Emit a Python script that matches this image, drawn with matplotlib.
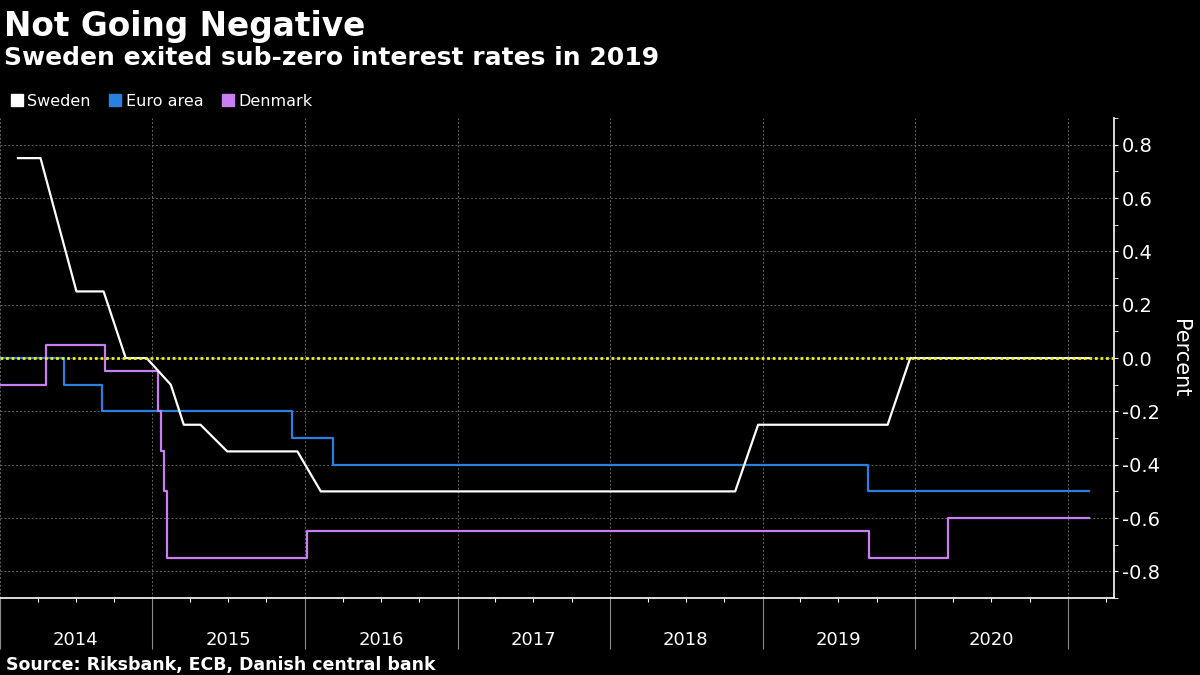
import pandas as pd
import matplotlib.pyplot as plt
import matplotlib.dates as mdates
from matplotlib.lines import Line2D
from matplotlib.ticker import MultipleLocator, FuncFormatter

# Policy rates (percent)
sweden_dates = ['2014-02-13', '2014-04-08', '2014-07-03', '2014-09-06', '2014-10-29',
                '2014-12-18', '2015-02-14', '2015-03-17', '2015-04-26', '2015-06-29',
                '2015-12-14', '2016-02-08', '2018-10-27', '2018-12-21', '2019-10-27',
                '2019-12-20', '2021-02-20']
sweden_rates = [0.75, 0.75, 0.25, 0.25, 0.0, 0.0, -0.1, -0.25, -0.25, -0.35,
                -0.35, -0.5, -0.5, -0.25, -0.25, 0.0, 0.0]

euro_dates = ['2014-01-01', '2014-06-04', '2014-09-03', '2015-12-02', '2016-03-08',
              '2019-09-11', '2021-02-20']
euro_rates = [0.0, -0.1, -0.2, -0.3, -0.4, -0.5, -0.5]

denmark_dates = ['2014-01-01', '2014-04-22', '2014-09-09', '2015-01-15', '2015-01-21',
                 '2015-01-28', '2015-02-06', '2016-01-06', '2019-09-13', '2020-03-20',
                 '2021-02-20']
denmark_rates = [-0.1, 0.05, -0.05, -0.2, -0.35, -0.5, -0.75, -0.65, -0.75, -0.6, -0.6]

series_names = ['Sweden', 'Euro area', 'Denmark']
series_colors = ['#ffffff', '#2a7fdf', '#c77ff2']

plt.rcParams['font.family'] = ['DejaVu Sans']

fig = plt.figure(figsize=(12, 6.75), dpi=100, facecolor='black')
ax = fig.add_axes([0.0, 0.114, 0.928, 0.711], facecolor='black')

ax.plot(pd.to_datetime(sweden_dates), sweden_rates, color=series_colors[0], lw=1.6, zorder=3)
ax.plot(pd.to_datetime(euro_dates), euro_rates, color=series_colors[1], lw=1.6,
        drawstyle='steps-post', zorder=2)
ax.plot(pd.to_datetime(denmark_dates), denmark_rates, color=series_colors[2], lw=1.6,
        drawstyle='steps-post', zorder=2)
ax.axhline(0, color='#eeee22', lw=2, linestyle=(0, (1, 1)), zorder=4)

ax.set_xlim(pd.Timestamp('2014-01-01'), pd.Timestamp('2021-04-20'))
ax.set_ylim(-0.9, 0.9)

# x axis: long grey ticks at year boundaries, short quarter ticks, year names mid-year
ax.xaxis.set_major_locator(mdates.YearLocator())
ax.xaxis.set_major_formatter(FuncFormatter(lambda v, p: ''))
ax.xaxis.set_minor_locator(mdates.MonthLocator(bymonth=[4, 7, 10]))
ax.xaxis.set_minor_formatter(FuncFormatter(
    lambda v, p: str(mdates.num2date(v).year) if mdates.num2date(v).month == 7 else ''))
ax.tick_params(axis='x', which='major', length=37, color='#8a8a8a', width=0.8)
ax.tick_params(axis='x', which='minor', length=3, color='white', width=0.8,
               labelcolor='white', labelsize=13, pad=21)

# y axis on the right
ax.yaxis.tick_right()
ax.yaxis.set_label_position('right')
ax.yaxis.set_major_locator(MultipleLocator(0.2))
ax.yaxis.set_minor_locator(MultipleLocator(0.1))
ax.yaxis.set_major_formatter(FuncFormatter(lambda v, p: f'{v:.1f}'.replace('-0.0', '0.0')))
ax.tick_params(axis='y', which='both', colors='white', labelsize=14, length=3, pad=3)
ax.set_ylabel('Percent', color='white', fontsize=15, rotation=270, labelpad=22)

ax.grid(True, which='major', color='#646464', linestyle=(0, (2, 2)), lw=0.7)
for side in ['left', 'top']:
    ax.spines[side].set_visible(False)
for side in ['right', 'bottom']:
    ax.spines[side].set_color('white')
    ax.spines[side].set_linewidth(1.2)

# titles, legend and source
fig.text(0.003, 0.947, 'Not Going Negative', color='white', fontsize=23.6, fontweight='bold')
fig.text(0.003, 0.904, 'Sweden exited sub-zero interest rates in 2019', color='white',
         fontsize=18, fontweight='bold')
handles = [Line2D([], [], marker='s', linestyle='none', markersize=8, color=c)
           for c in series_colors]
fig.legend(handles, series_names, loc='center left', bbox_to_anchor=(0.004, 0.85), ncol=3,
           frameon=False, handlelength=0.7, handletextpad=0.3, columnspacing=1.2,
           fontsize=11.5, labelcolor='white', borderaxespad=0)
fig.text(0.005, 0.008, 'Source: Riksbank, ECB, Danish central bank', color='white',
         fontsize=12.5, fontweight='bold')

plt.savefig('out.png', dpi=100, facecolor='black')
